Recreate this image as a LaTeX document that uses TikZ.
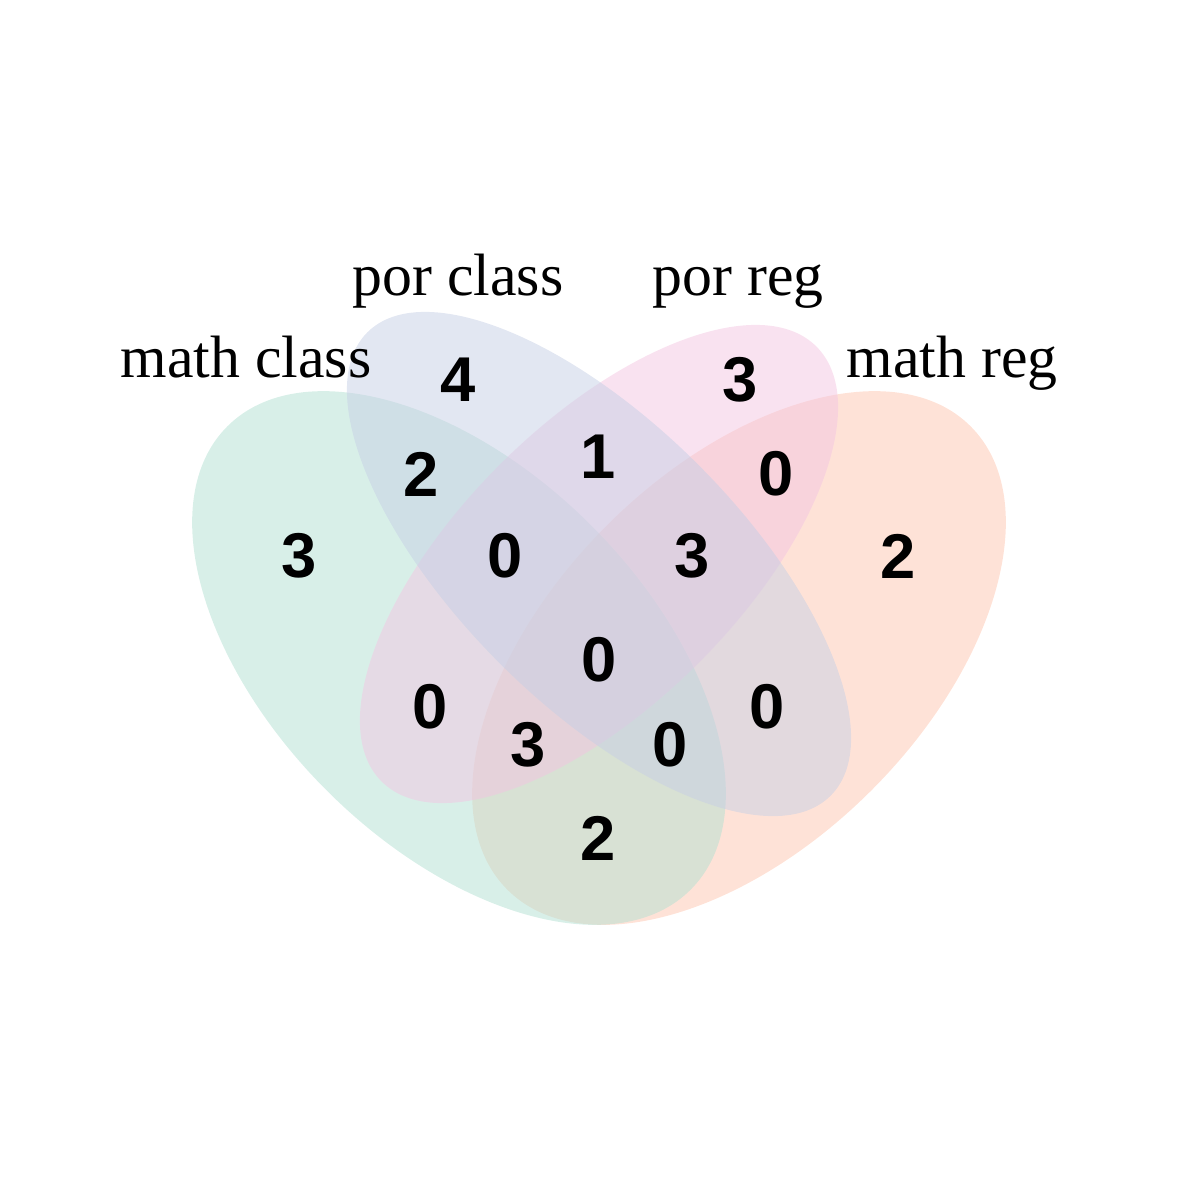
\documentclass[tikz,border=0pt]{standalone}
\usepackage{fontspec}
\setmainfont{Liberation Serif}
\newfontfamily\countfont{Liberation Sans}
\definecolor{mcgreen}{HTML}{66C2A5}
\definecolor{pcblue}{HTML}{8DA0CB}
\definecolor{prpink}{HTML}{E78AC3}
\definecolor{mrorange}{HTML}{FC8D62}
\tikzset{
	setname/.style={font=\fontsize{17}{20}\selectfont, anchor=base, inner sep=0pt},
	count/.style={font=\countfont\bfseries\fontsize{18}{21}\selectfont, inner sep=0pt},
	setfill/.style={fill=#1!50, fill opacity=0.5}
}

\begin{document}
\begin{tikzpicture}[x=0.01cm, y=-0.01cm]
			%%%%% START %%%%%
			\useasboundingbox (0, 0) rectangle (1200, 1200);
			
			\fill[setfill=mrorange, rotate around={45:(739, 658)}] (739, 658) ellipse [x radius=327.6, y radius=187.2];
			\fill[setfill=mcgreen, rotate around={-45:(459, 658)}] (459, 658) ellipse [x radius=327.6, y radius=187.2];
			\fill[setfill=prpink, rotate around={45:(599, 564)}] (599, 564) ellipse [x radius=307.5, y radius=140.4];
			\fill[setfill=pcblue, rotate around={-45:(599, 564)}] (599, 564) ellipse [x radius=327.6, y radius=140.4];
			
			\node[count] (n1000) at (299, 556) {3};
			\node[count] (n0100) at (458, 380) {4};
			\node[count] (n0010) at (740, 380) {3};
			\node[count] (n0001) at (898, 556) {2};
			\node[count] (n1100) at (421, 474) {2};
			\node[count] (n0110) at (598, 457) {1};
			\node[count] (n0011) at (776, 474) {0};
			\node[count] (n1110) at (505, 556) {0};
			\node[count] (n0111) at (692, 556) {3};
			\node[count] (n1111) at (599, 660) {0};
			\node[count] (n1010) at (430, 707) {0};
			\node[count] (n0101) at (767, 707) {0};
			\node[count] (n1011) at (528, 745) {3};
			\node[count] (n1101) at (670, 745) {0};
			\node[count] (n1001) at (598, 838) {2};
			
			\node[setname] (mathclass) at (246, 377) {math class};
			\node[setname] (porclass) at (458, 295) {por class};
			\node[setname] (porreg) at (738, 295) {por reg};
			\node[setname] (mathreg) at (952, 377) {math reg};
			
			%%%%% END %%%%%
\end{tikzpicture}
\end{document}
